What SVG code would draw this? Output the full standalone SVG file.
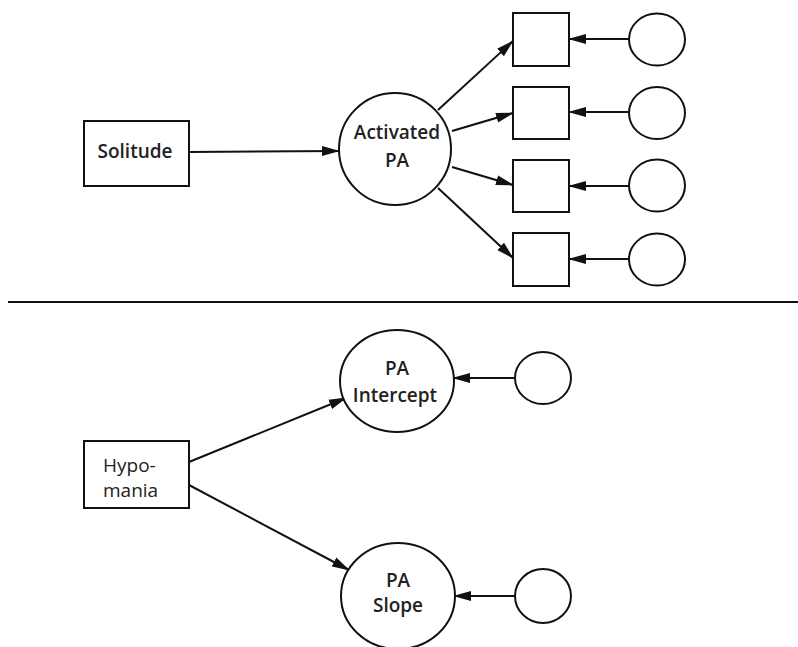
<svg xmlns="http://www.w3.org/2000/svg" width="798" height="647" viewBox="0 0 798 647">
<style>
.n{fill:#fff;stroke:#111;stroke-width:2}
.t{font-family:"Open Sans","Liberation Sans",sans-serif;font-size:19px;font-weight:600;fill:#222;text-anchor:middle}
.tl{text-anchor:start;font-weight:500}
.c{stroke:#111;stroke-width:2;fill:none;marker-end:url(#ah)}
</style>
<defs>
<marker id="ah" viewBox="0 0 18 12" refX="17" refY="6" markerWidth="18" markerHeight="12" markerUnits="userSpaceOnUse" orient="auto">
<path d="M0,1 L18,6 L0,11 Z" fill="#111"/>
</marker>
</defs>
<rect width="798" height="647" fill="#fff"/>
<g id="connectors">
<line class="c" x1="189" y1="152" x2="339" y2="151"/>
<line class="c" x1="438" y1="110" x2="513" y2="41"/>
<line class="c" x1="452" y1="131" x2="513" y2="113"/>
<line class="c" x1="452" y1="167" x2="513" y2="185"/>
<line class="c" x1="438" y1="188" x2="513" y2="258"/>
<line class="c" x1="629" y1="39" x2="569" y2="39"/>
<line class="c" x1="629" y1="112" x2="569" y2="112"/>
<line class="c" x1="629" y1="186" x2="569" y2="186"/>
<line class="c" x1="629" y1="259" x2="569" y2="259"/>
<line class="c" x1="189" y1="462" x2="346" y2="398"/>
<line class="c" x1="189" y1="485" x2="349" y2="570"/>
<line class="c" x1="515" y1="378" x2="453" y2="378"/>
<line class="c" x1="515" y1="596" x2="454" y2="596"/>
</g>
<line x1="8" y1="302" x2="798" y2="302" stroke="#111" stroke-width="2"/>
<g id="solitude"><rect class="n" x="84" y="121" width="105" height="65"/><text class="t" x="135" y="158">Solitude</text></g>
<g id="activated-pa"><circle class="n" cx="395" cy="149" r="56"/><text class="t" x="397" y="139">Activated</text><text class="t" x="397" y="167">PA</text></g>
<g id="sq1"><rect class="n" x="513" y="13" width="56" height="53"/></g>
<g id="sq2"><rect class="n" x="513" y="87" width="56" height="52"/></g>
<g id="sq3"><rect class="n" x="513" y="160" width="56" height="52"/></g>
<g id="sq4"><rect class="n" x="513" y="233" width="56" height="53"/></g>
<g id="e1"><ellipse class="n" cx="657" cy="39.5" rx="28" ry="26"/></g>
<g id="e2"><ellipse class="n" cx="657" cy="113" rx="28" ry="26"/></g>
<g id="e3"><ellipse class="n" cx="657" cy="185.5" rx="28" ry="26"/></g>
<g id="e4"><ellipse class="n" cx="657" cy="259.5" rx="28" ry="26"/></g>
<g id="hypomania"><rect class="n" x="84" y="441" width="105" height="67"/><text class="t tl" x="103" y="472">Hypo-</text><text class="t tl" x="103" y="497">mania</text></g>
<g id="pa-intercept"><ellipse class="n" cx="397" cy="381" rx="57" ry="51"/><text class="t" x="397" y="375">PA</text><text class="t" x="395" y="402">Intercept</text></g>
<g id="pa-slope"><ellipse class="n" cx="398" cy="596" rx="57" ry="53"/><text class="t" x="398" y="587">PA</text><text class="t" x="398" y="612">Slope</text></g>
<g id="e5"><ellipse class="n" cx="543" cy="378" rx="28" ry="26"/></g>
<g id="e6"><ellipse class="n" cx="543" cy="596" rx="28" ry="27"/></g>
</svg>
